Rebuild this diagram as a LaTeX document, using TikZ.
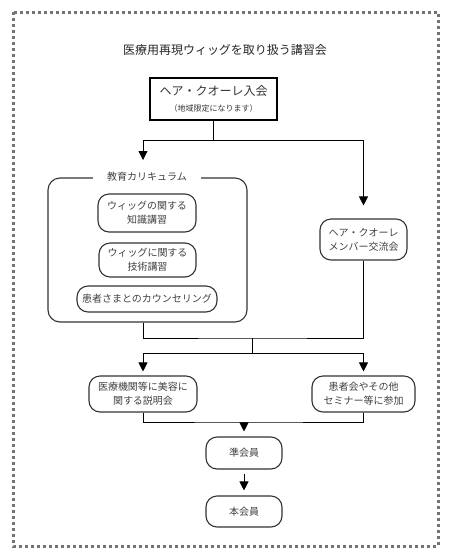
\documentclass[tikz,border=0pt]{standalone}
\usepackage{fontspec}
\setmainfont{Noto Sans CJK JP}
\usetikzlibrary{arrows.meta, positioning}

\begin{document}
\begin{tikzpicture}[x=1pt,y=-1pt,>={Triangle[width=9pt,length=9pt]},
                    line width=0.8pt]
  \tikzstyle{txt}=[text=black!75,font=\fontsize{10}{14}\selectfont,align=center,inner sep=0pt]
  \tikzstyle{pill}=[txt,draw=black!80,line width=1.1pt,rounded corners=11pt]

  \useasboundingbox (0,0) rectangle (453,558);
  \draw[black!55, line width=3pt, dash pattern=on 3pt off 3pt] (13,12) rectangle (438,546);

  \node[txt, text=black!85, font=\fontsize{12}{14}\selectfont] (title) at (225,50) {医療用再現ウィッグを取り扱う講習会};

  \node[draw, line width=2.4pt, minimum width=127pt, minimum height=42pt, align=center, inner sep=0pt,
        text=black!80, font=\fontsize{12}{16}\selectfont] (join) at (213.5,99)
        {ヘア・クオーレ入会\\{\fontsize{8}{10}\selectfont （地域限定になります）}};

  \node[draw=black!80, line width=1.1pt, rounded corners=12pt, minimum width=199pt, minimum height=144pt] (curr) at (147.5,250) {};
  \node[txt, fill=white, inner xsep=14pt, inner ysep=2pt] (currlbl) at (147,177) {教育カリキュラム};

  \node[pill, minimum width=98pt, minimum height=38pt]  (know)    at (147,213)   {ウィッグの関する\\知識講習};
  \node[pill, minimum width=97pt, minimum height=34pt]  (skill)   at (147.5,260) {ウィッグに関する\\技術講習};
  \node[pill, minimum width=140pt, minimum height=26pt] (counsel) at (147,299)   {患者さまとのカウンセリング};

  \node[pill, minimum width=87pt, minimum height=41pt]  (club)  at (363.5,239.5) {ヘア・クオーレ\\メンバー交流会};
  \node[pill, minimum width=108pt, minimum height=36pt] (expl)  at (143,394)     {医療機関等に美容に\\関する説明会};
  \node[pill, minimum width=103pt, minimum height=36pt] (semi)  at (363.5,394)   {患者会やその他\\セミナー等に参加};
  \node[pill, minimum width=76pt, minimum height=32pt]  (assoc) at (244,453)     {準会員};
  \node[pill, minimum width=76pt, minimum height=31pt]  (full)  at (244,511.5)   {本会員};

  \coordinate (s1) at (213.5,140);
  \coordinate (a1) at (143,160);
  \coordinate (m1) at (252,338);
  \coordinate (m2) at (252,353);
  \coordinate (m3) at (244,422);

  \draw (join) -- (s1);
  \draw[->] (s1) -| (a1);
  \draw[->, shorten >=13pt] (s1) -| (club);
  \draw (curr.south -| a1) |- (m1) -| (club);
  \draw (m1) -- (m2);
  \draw[->, shorten >=4pt] (m2) -| (expl);
  \draw[->, shorten >=4pt] (m2) -| (semi);
  \draw (expl) |- (m3) -| (semi);
  \draw[->, shorten >=5pt] (m3) -- (assoc);
  \draw[->, shorten >=5pt, shorten <=4pt] (assoc) -- (full);
\end{tikzpicture}
\end{document}
